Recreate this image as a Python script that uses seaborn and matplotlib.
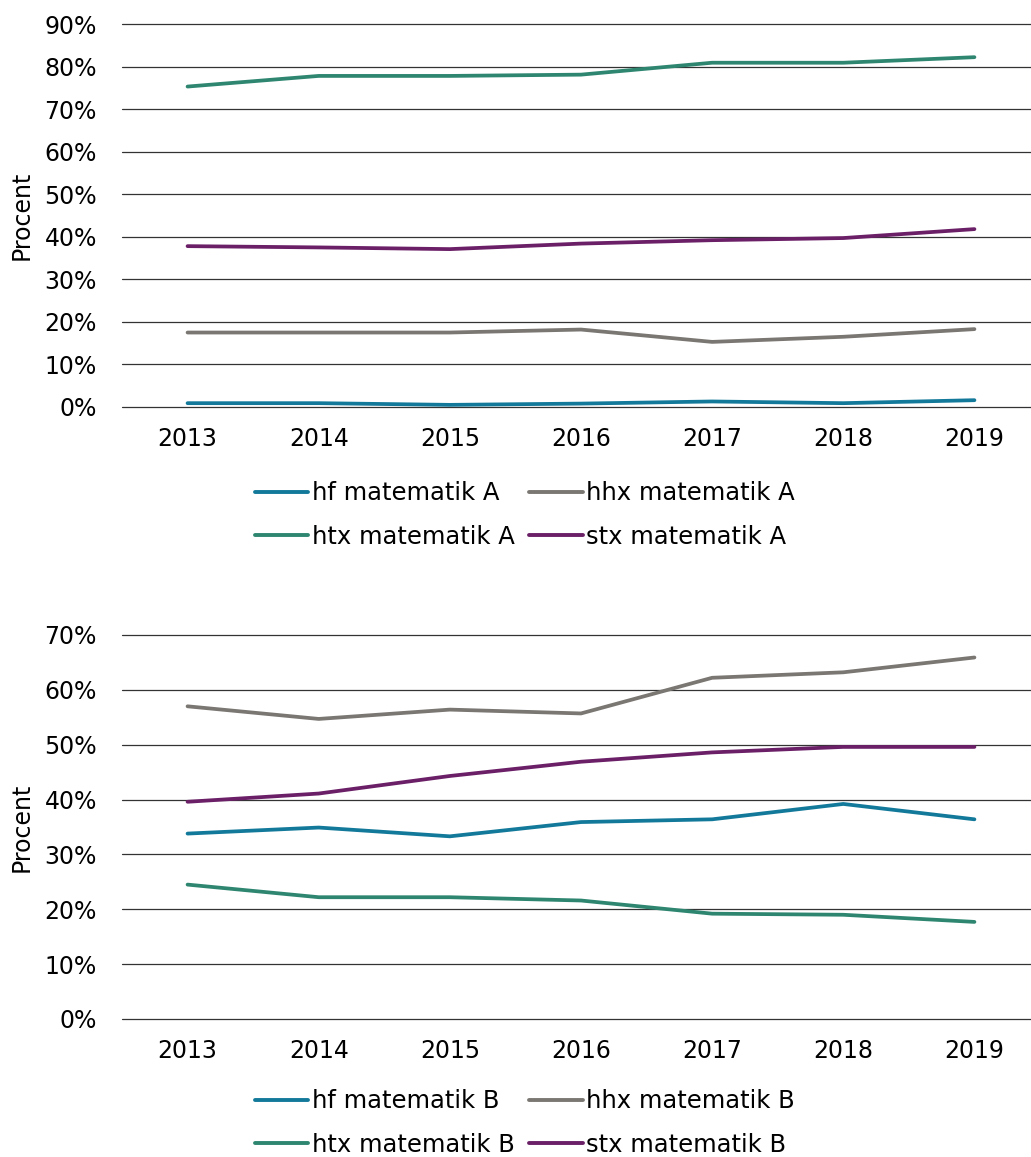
import matplotlib
matplotlib.use("Agg")
import matplotlib.pyplot as plt
import seaborn as sns
import pandas as pd

# Years on the x axis
years = [2013, 2014, 2015, 2016, 2017, 2018, 2019]

# Share (%) taking mathematics at A level, by programme
hf_A = [0.9, 0.9, 0.5, 0.8, 1.3, 0.9, 1.6]
hhx_A = [17.5, 17.5, 17.5, 18.2, 15.3, 16.5, 18.3]
htx_A = [75.3, 77.8, 77.8, 78.1, 80.9, 80.9, 82.2]
stx_A = [37.8, 37.5, 37.1, 38.4, 39.2, 39.7, 41.8]

# Share (%) taking mathematics at B level, by programme
hf_B = [33.8, 34.9, 33.3, 35.9, 36.4, 39.2, 36.4]
hhx_B = [57.0, 54.7, 56.4, 55.7, 62.2, 63.2, 65.9]
htx_B = [24.5, 22.2, 22.2, 21.6, 19.2, 19.0, 17.7]
stx_B = [39.6, 41.1, 44.3, 46.9, 48.6, 49.6, 49.6]

series_A = ["hf matematik A", "hhx matematik A", "htx matematik A", "stx matematik A"]
series_B = ["hf matematik B", "hhx matematik B", "htx matematik B", "stx matematik B"]
colors = ["#13799a", "#7a7672", "#2e8670", "#6b1f67"]

y_ticks_A = [0, 10, 20, 30, 40, 50, 60, 70, 80, 90]
y_ticks_B = [0, 10, 20, 30, 40, 50, 60, 70]


def long_form(names, values):
    rows = []
    for name, vals in zip(names, values):
        for yr, v in zip(years, vals):
            rows.append({"year": yr, "value": v, "series": name})
    return pd.DataFrame(rows)


df_A = long_form(series_A, [hf_A, hhx_A, htx_A, stx_A])
df_B = long_form(series_B, [hf_B, hhx_B, htx_B, stx_B])

sns.set_theme(style="white")
plt.rcParams["font.family"] = ["DejaVu Sans"]

FS = 17
LEG_FS = 17.5

fig = plt.figure(figsize=(10.31, 11.57), dpi=100)

W = 1031.0
H = 1157.0
left = 122 / W
width = (1040 - 122) / W
ax_A = fig.add_axes([left, 1 - 407 / H, width, 383 / H])
ax_B = fig.add_axes([left, 1 - 1019 / H, width, 384 / H])


def style_axis(ax, df, names, yticks, legend_y):
    pal = dict(zip(names, colors))
    sns.lineplot(data=df, x="year", y="value", hue="series", palette=pal,
                 hue_order=names, linewidth=2.7, ax=ax, legend=False,
                 solid_capstyle="round")
    ax.set_xlim(years[0] - 0.5, years[-1] + 0.5)
    ax.set_ylim(yticks[0], yticks[-1])
    ax.set_xticks(years)
    ax.set_xticklabels([str(y) for y in years], fontsize=FS, color="black")
    ax.set_yticks(yticks)
    ax.set_yticklabels([f"{t}%" for t in yticks], fontsize=FS, color="black")
    ax.yaxis.grid(True, color="#333333", linewidth=0.9)
    for gl in ax.get_ygridlines():
        gl.set_clip_on(False)
    ax.xaxis.grid(False)
    ax.set_axisbelow(True)
    for s in ax.spines.values():
        s.set_visible(False)
    ax.tick_params(axis="both", length=0)
    ax.tick_params(axis="y", pad=18)
    ax.tick_params(axis="x", pad=14.5)
    ax.set_xlabel("")
    ax.set_ylabel("Procent", fontsize=FS, color="black")
    ax.yaxis.set_label_coords(-0.0959, 0.5)

    handles = [plt.Line2D([0], [0], color=c, linewidth=2.8) for c in colors]
    order = [0, 2, 1, 3]
    fig.legend([handles[i] for i in order], [names[i] for i in order],
               loc="center", bbox_to_anchor=(525 / W, 1 - legend_y / H),
               ncol=2, frameon=False, fontsize=LEG_FS, handlelength=2.2,
               handletextpad=0.16, columnspacing=0.58, labelspacing=0.8,
               labelcolor="black")


style_axis(ax_A, df_A, series_A, y_ticks_A, 515)
style_axis(ax_B, df_B, series_B, y_ticks_B, 1123)

fig.savefig("out.png", dpi=100, facecolor="white")
